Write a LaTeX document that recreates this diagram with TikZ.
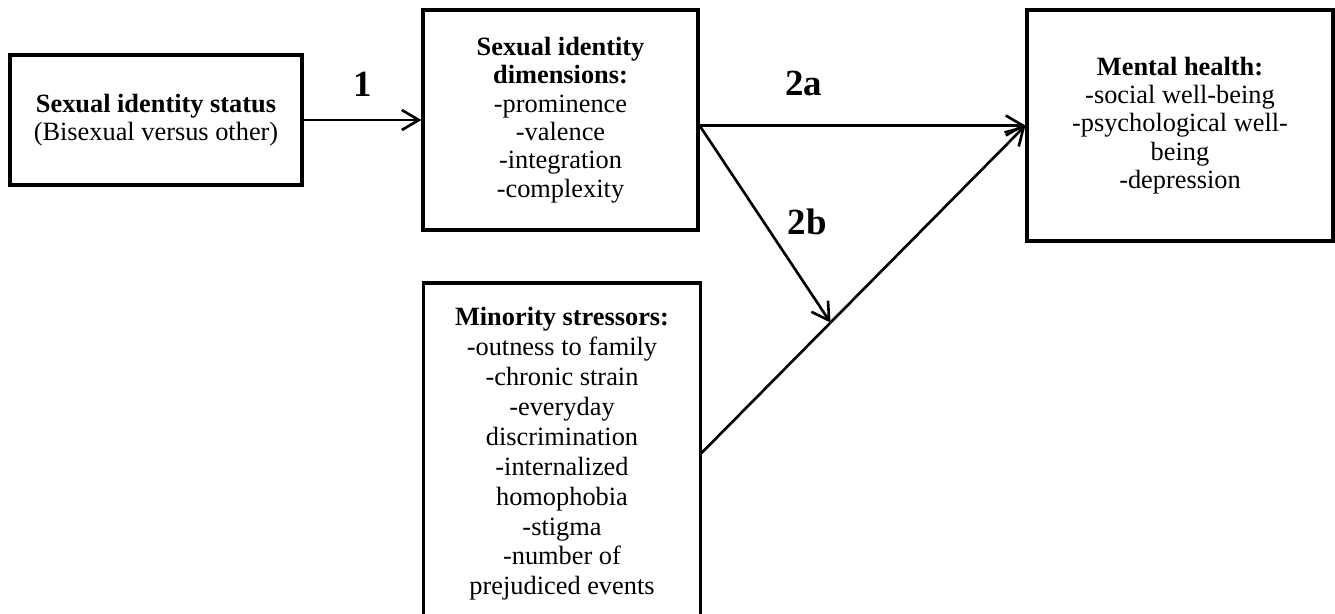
\documentclass[tikz,border=0pt]{standalone}
\usepackage{fontspec}
\setmainfont{Liberation Serif}
\usepackage{tikz}
\usetikzlibrary{arrows.meta,positioning}
\tikzstyle{varbox}=[rectangle, draw, line width=1.8pt, align=center, font=\fontsize{15}{16.1}\selectfont]
\tikzstyle{pathlabel}=[font=\fontsize{21}{24}\selectfont\bfseries]
\tikzstyle{patharrow}=[line width=1.5pt, -{Straight Barb[length=3.4mm, width=4mm, line width=1.5pt]}]

\begin{document}
\begin{tikzpicture}
\useasboundingbox (0,0) rectangle (26.7,-12.26);

\node[varbox, minimum width=58.4mm, minimum height=26mm] (status) at (3.12,-2.40) {\textbf{Sexual identity status}\\(Bisexual versus other)};
\node[varbox, minimum width=55mm, minimum height=44mm] (dims) at (11.21,-2.40) {\textbf{Sexual identity}\\\textbf{dimensions:}\\-prominence\\-valence\\-integration\\-complexity};
\node[varbox, minimum width=61.2mm, minimum height=46.2mm] (health) at (23.6,-2.51) {\textbf{Mental health:}\\-social well-being\\-psychological well-\\being\\-depression};
\node[varbox, draw=none, anchor=north, minimum width=54.8mm, inner sep=4.6mm, font=\fontsize{15}{17}\selectfont] (stress) at (11.24,-5.66) {\textbf{Minority stressors:}\\-outness to family\\-chronic strain\\-everyday\\discrimination\\-internalized\\homophobia\\-stigma\\-number of\\prejudiced events};
% box runs off the bottom of the page
\draw[line width=1.8pt] (stress.north west) rectangle ([yshift=-2cm]stress.south east);

\path (stress.east) -- (health.west) coordinate[pos=0.40] (meet);

\draw[patharrow] (status.east) -- node[pathlabel, midway, above=3.3mm] {1} (dims.west);
\draw[patharrow] (dims.east |- health.west) -- node[pathlabel, pos=0.32, above=4.4mm] {2a} (health.west);
\draw[patharrow] (dims.east |- health.west) -- node[pathlabel, pos=0.49, right=3.4mm] {2b} (meet);
\draw[line width=1.5pt] (stress.east) -- (meet);
\draw[patharrow] (meet) -- (health.west);

\end{tikzpicture}
\end{document}
